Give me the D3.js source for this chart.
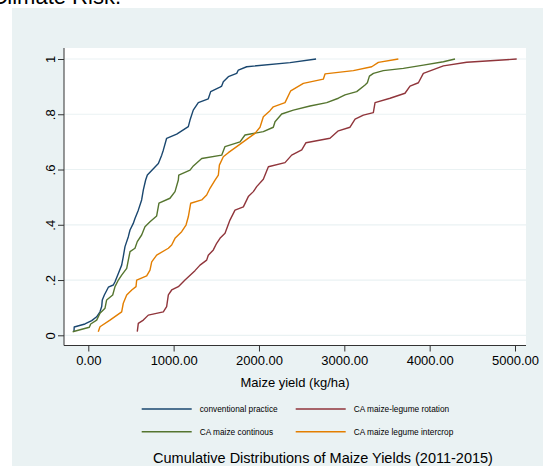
<!DOCTYPE html>
<html>
<head>
<meta charset="utf-8">
<script src="https://cdn.jsdelivr.net/npm/d3@7"></script>
<style>
    body { margin: 0; background: #fff; }
    text { font-family: "Liberation Sans", Arial, sans-serif; fill: #000; }
</style>
</head>
<body>
<svg id="chart" width="543" height="466"></svg>
<script>
// [yield kg/ha, cumulative share]
let conventional = [[-168,0.013],[-165,0.03],[-39,0.041],[40,0.053],[98,0.067],[137,0.085],[157,0.104],[164,0.128],[188,0.146],[235,0.174],[293,0.182],[313,0.194],[352,0.224],[391,0.254],[410,0.285],[430,0.321],[469,0.357],[489,0.381],[527,0.405],[547,0.423],[586,0.453],[625,0.49],[645,0.526],[672,0.562],[692,0.58],[821,0.622],[860,0.652],[879,0.67],[918,0.713],[1036,0.728],[1172,0.755],[1192,0.779],[1230,0.815],[1289,0.842],[1406,0.856],[1434,0.882],[1543,0.898],[1563,0.902],[1582,0.918],[1641,0.936],[1739,0.948],[1758,0.96],[1856,0.972],[2364,0.987],[2669,1.0]];
let rotation = [[574,0.013],[586,0.043],[645,0.055],[703,0.073],[879,0.085],[918,0.104],[938,0.146],[977,0.164],[1055,0.176],[1133,0.2],[1250,0.234],[1309,0.254],[1387,0.272],[1406,0.29],[1465,0.309],[1504,0.333],[1543,0.351],[1602,0.369],[1660,0.417],[1719,0.453],[1817,0.465],[1875,0.502],[1934,0.52],[1973,0.538],[2051,0.565],[2110,0.61],[2305,0.625],[2383,0.652],[2501,0.671],[2551,0.697],[2832,0.713],[2930,0.74],[3067,0.753],[3126,0.782],[3223,0.797],[3340,0.806],[3360,0.842],[3536,0.858],[3711,0.876],[3770,0.902],[3868,0.914],[3926,0.948],[4161,0.975],[4434,0.988],[5020,1.0]];
let continuous = [[-183,0.013],[12,0.029],[28,0.041],[98,0.055],[137,0.08],[196,0.098],[215,0.128],[286,0.146],[313,0.176],[352,0.2],[391,0.218],[450,0.242],[469,0.272],[489,0.303],[547,0.315],[574,0.339],[625,0.363],[664,0.393],[723,0.411],[801,0.432],[828,0.478],[957,0.496],[1016,0.52],[1055,0.562],[1060,0.58],[1192,0.598],[1231,0.613],[1329,0.64],[1563,0.652],[1602,0.683],[1778,0.70],[1836,0.725],[2051,0.737],[2168,0.753],[2188,0.773],[2266,0.801],[2403,0.815],[2598,0.83],[2794,0.842],[2930,0.858],[3008,0.87],[3145,0.882],[3243,0.906],[3270,0.914],[3294,0.938],[3341,0.948],[3457,0.958],[3692,0.966],[3926,0.978],[4161,0.99],[4297,1.0]];
let intercrop = [[117,0.013],[137,0.031],[254,0.055],[391,0.085],[410,0.116],[450,0.146],[509,0.164],[559,0.176],[567,0.2],[684,0.215],[723,0.236],[743,0.266],[801,0.29],[938,0.315],[977,0.327],[1016,0.351],[1094,0.375],[1145,0.399],[1172,0.429],[1200,0.478],[1329,0.49],[1387,0.508],[1426,0.532],[1485,0.562],[1524,0.58],[1536,0.616],[1582,0.646],[1641,0.661],[1739,0.683],[1856,0.709],[1953,0.731],[2012,0.753],[2051,0.791],[2129,0.813],[2168,0.827],[2305,0.842],[2372,0.885],[2520,0.912],[2754,0.927],[2774,0.946],[3106,0.958],[3321,0.972],[3399,0.988],[3633,1.0]];

let xTicks = [0, 1000, 2000, 3000, 4000, 5000];
let yTicks = [0, 0.2, 0.4, 0.6, 0.8, 1];
let yTickLabels = ["0", ".2", ".4", ".6", ".8", "1"];
let seriesNames = ["conventional practice", "CA maize-legume rotation", "CA maize continous", "CA maize legume intercrop"];
let seriesColors = ["#1a476f", "#90353b", "#55752f", "#e37e00"];
let seriesData = [conventional, rotation, continuous, intercrop];

let svg = d3.select("#chart");

// cut-off text from the page above
svg.append("text")
    .attr("x", 121).attr("y", 3.5)
    .attr("text-anchor", "end")
    .style("font-size", "22px")
    .text("Climate Risk.");

// outer panel
svg.append("rect")
    .attr("x", 12).attr("y", 8)
    .attr("width", 531).attr("height", 458)
    .attr("fill", "#eaf2f3");

let plot = {left: 64, right: 526, top: 48, bottom: 345.5};

svg.append("rect")
    .attr("x", plot.left).attr("y", plot.top)
    .attr("width", plot.right - plot.left).attr("height", plot.bottom - plot.top)
    .attr("fill", "#fff");

let x = d3.scaleLinear().domain([0, 5000]).range([88.3, 515]);
let y = d3.scaleLinear().domain([0, 1]).range([335.3, 59]);

// grid
svg.append("g").selectAll("line")
    .data(yTicks)
    .join("line")
    .attr("x1", plot.left).attr("x2", plot.right)
    .attr("y1", d => y(d)).attr("y2", d => y(d))
    .attr("stroke", "#eaf2f3")
    .attr("stroke-width", 1.2);

// axes
let xAxis = svg.append("g")
    .attr("transform", `translate(0,${plot.bottom})`)
    .call(d3.axisBottom(x).tickValues(xTicks).tickSize(6).tickPadding(4).tickFormat(d3.format(".2f")));
xAxis.select(".domain").attr("d", `M${plot.left},0H${plot.right}`).attr("stroke", "#333");
xAxis.selectAll(".tick line").attr("stroke", "#333");
xAxis.selectAll("text").style("font-size", "13px").attr("font-family", null);

let yAxis = svg.append("g")
    .attr("transform", `translate(${plot.left},0)`)
    .call(d3.axisLeft(y).tickValues(yTicks).tickSize(6).tickFormat((d, i) => yTickLabels[i]));
yAxis.select(".domain").attr("d", `M0,${plot.top}V${plot.bottom}`).attr("stroke", "#333");
yAxis.selectAll(".tick line").attr("stroke", "#333");
yAxis.selectAll("text")
    .style("font-size", "13px").attr("font-family", null)
    .attr("x", 0).attr("dy", null)
    .attr("text-anchor", "middle")
    .attr("transform", "translate(-14,0) rotate(-90)")
    .attr("dominant-baseline", "central");

svg.append("text")
    .attr("x", 295).attr("y", 386.5)
    .attr("text-anchor", "middle")
    .style("font-size", "13px")
    .text("Maize yield (kg/ha)");

// curves
let line = d3.line().x(d => x(d[0])).y(d => y(d[1]));
svg.append("g").selectAll("path")
    .data(seriesData)
    .join("path")
    .attr("d", d => line(d))
    .attr("fill", "none")
    .attr("stroke", (d, i) => seriesColors[i])
    .attr("stroke-width", 1.4)
    .attr("stroke-linejoin", "round");

// legend
let legendPos = [[141.7, 409], [295.7, 409], [141.7, 431.7], [295.7, 431.7]];
let legend = svg.append("g").selectAll("g")
    .data(seriesNames)
    .join("g")
    .attr("transform", (d, i) => `translate(${legendPos[i][0]},${legendPos[i][1]})`);
legend.append("line")
    .attr("x1", 0).attr("x2", 50)
    .attr("stroke", (d, i) => seriesColors[i])
    .attr("stroke-width", 1.4);
legend.append("text")
    .attr("x", 58).attr("y", 3)
    .style("font-size", "8.3px")
    .text(d => d);

svg.append("text")
    .attr("x", 323).attr("y", 463)
    .attr("text-anchor", "middle")
    .style("font-size", "14.5px")
    .text("Cumulative Distributions of Maize Yields (2011-2015)");
</script>
</body>
</html>
